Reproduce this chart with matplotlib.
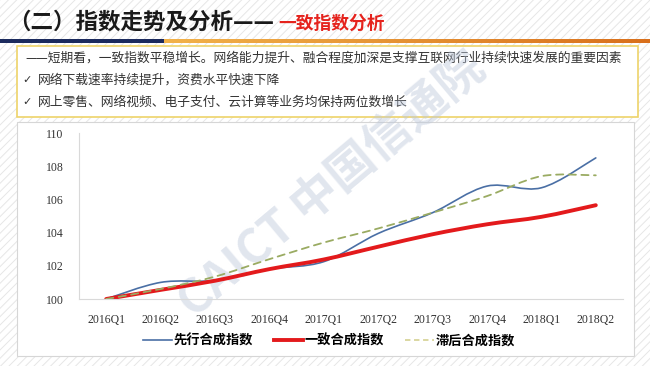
import matplotlib
matplotlib.use('Agg')
import matplotlib.pyplot as plt
import numpy as np
from matplotlib.patches import Rectangle, PathPatch
from matplotlib.path import Path
from matplotlib.lines import Line2D

# --- Données ---
quarters = ['2016Q1', '2016Q2', '2016Q3', '2016Q4', '2017Q1',
            '2017Q2', '2017Q3', '2017Q4', '2018Q1', '2018Q2']
leading = [100, 101.0, 101.12, 101.8, 102.25, 103.95, 105.2, 106.8, 106.7, 108.5]
coincident = [100, 100.55, 101.1, 101.8, 102.38, 103.15, 103.9, 104.5, 104.95, 105.65]
lagging = [100, 100.6, 101.35, 102.4, 103.4, 104.25, 105.2, 106.2, 107.4, 107.45]
series_names = ['先行合成指数', '一致合成指数', '滞后合成指数']
yticks = [100, 102, 104, 106, 108, 110]

title_main = '（二）指数走势及分析——'
title_red = '一致指数分析'
box_lines = ['——短期看，一致指数平稳增长。网络能力提升、融合程度加深是支撑互联网行业持续快速发展的重要因素',
             '网络下载速率持续提升，资费水平快速下降',
             '网上零售、网络视频、电子支付、云计算等业务均保持两位数增长']

CJK = ['Noto Sans CJK SC', 'DejaVu Sans']
plt.rcParams['font.family'] = CJK
plt.rcParams['hatch.linewidth'] = 0.7


def smooth_path(xs, ys):
    # courbe lissée façon Excel (Bézier cubique)
    pts = np.column_stack([xs, ys]).astype(float)
    n = len(pts)
    verts = [pts[0]]
    codes = [Path.MOVETO]
    for i in range(n - 1):
        p0 = pts[i - 1] if i > 0 else pts[i]
        p1 = pts[i]
        p2 = pts[i + 1]
        p3 = pts[i + 2] if i + 2 < n else pts[i + 1]
        verts += [p1 + (p2 - p0) / 6, p2 - (p3 - p1) / 6, p2]
        codes += [Path.CURVE4] * 3
    return Path(verts, codes)


fig = plt.figure(figsize=(6.5, 3.66), dpi=100)

# --- Fond de diapositive (coordonnées pixels) ---
bg = fig.add_axes([0, 0, 1, 1], zorder=0)
bg.axis('off')
bg.add_patch(Rectangle((0, 0), 650, 366, facecolor='white', edgecolor='#e6e6e6',
                       hatch='////', lw=0, zorder=0))

# bandeau sous le titre
bg.add_patch(Rectangle((0, 39), 164, 4, facecolor='#1c2b5e', edgecolor='none', zorder=2))
grad = np.linspace(0, 1, 256).reshape(1, -1)
bg.imshow(grad, extent=(164, 650, 43, 39), aspect='auto', zorder=2,
          cmap=matplotlib.colors.LinearSegmentedColormap.from_list('o', ['#f2b24a', '#d9701c']))
bg.set_xlim(0, 650)
bg.set_ylim(366, 0)

# titre
bg.text(8, 22, title_main, fontsize=16.2, fontweight='bold', color='#1a1a1a', va='center', ha='left')
bg.text(278, 23.5, title_red, fontsize=12.8, fontweight='bold', color='#e5231d', va='center', ha='left')

# cadre de texte
bg.add_patch(Rectangle((17, 46), 621, 71, facecolor='white', edgecolor='#eed36a', lw=1.2, zorder=2))
bg.text(25, 58, box_lines[0], fontsize=9.2, color='#333333', va='center', ha='left', zorder=3)
for yy, line in zip([80, 102], box_lines[1:]):
    bg.text(22, yy, '✓', fontsize=8, color='#333333', va='center', ha='left',
            family=['DejaVu Sans'], zorder=3)
    bg.text(38, yy, line, fontsize=9.2, color='#333333', va='center', ha='left', zorder=3)

# panneau du graphique
bg.add_patch(Rectangle((17, 122), 617, 234, facecolor='white', edgecolor='#d6d6d6', lw=0.8, zorder=2))

# filigrane
bg.text(332, 186, 'CAICT 中国信通院', fontsize=34, fontweight='bold', color='#bcc7da',
        alpha=0.45, rotation=40, ha='center', va='center', zorder=4)

# --- Graphique ---
ax = fig.add_axes([79 / 650, 1 - 299 / 366, 544 / 650, 166 / 366], zorder=2)
ax.set_facecolor('none')
x = np.arange(len(quarters))

styles = [
    dict(color='#4a6fa5', lw=1.2, ls='-'),
    dict(color='#e31a1c', lw=2.8, ls='-'),
    dict(color='#9aab62', lw=1.3, ls=(0, (4, 3))),
]
for vals, st in zip([leading, coincident, lagging], styles):
    ax.add_patch(PathPatch(smooth_path(x, vals), fill=False, edgecolor=st['color'],
                           lw=st['lw'], linestyle=st['ls'], capstyle='round'))

ax.set_xlim(-0.5, len(quarters) - 0.5)
ax.set_ylim(100, 110)
ax.set_yticks(yticks)
ax.set_yticklabels([str(v) for v in yticks])
ax.set_xticks(x)
ax.set_xticklabels(quarters)
for lab in ax.get_xticklabels() + ax.get_yticklabels():
    lab.set_family('Liberation Serif')
    lab.set_fontsize(8.5)
    lab.set_color('#333333')
ax.tick_params(axis='both', length=0)
ax.tick_params(axis='y', pad=11)
ax.tick_params(axis='x', pad=11)
for s in ['top', 'right']:
    ax.spines[s].set_visible(False)
for s in ['left', 'bottom']:
    ax.spines[s].set_color('#d9d9d9')
    ax.spines[s].set_linewidth(0.8)

handles = [Line2D([0], [0], **styles[0]),
           Line2D([0], [0], **styles[1]),
           Line2D([0], [0], color='#d8d49a', lw=1.3, ls=(0, (3, 2)))]
fig.legend(handles, series_names, loc='center', bbox_to_anchor=(0.506, 1 - 341 / 366),
           ncol=3, frameon=False, prop={'family': CJK, 'weight': 'bold', 'size': 9.5},
           handlelength=2.2, handletextpad=0.1, columnspacing=1.6)

fig.savefig('out.png', dpi=100)
